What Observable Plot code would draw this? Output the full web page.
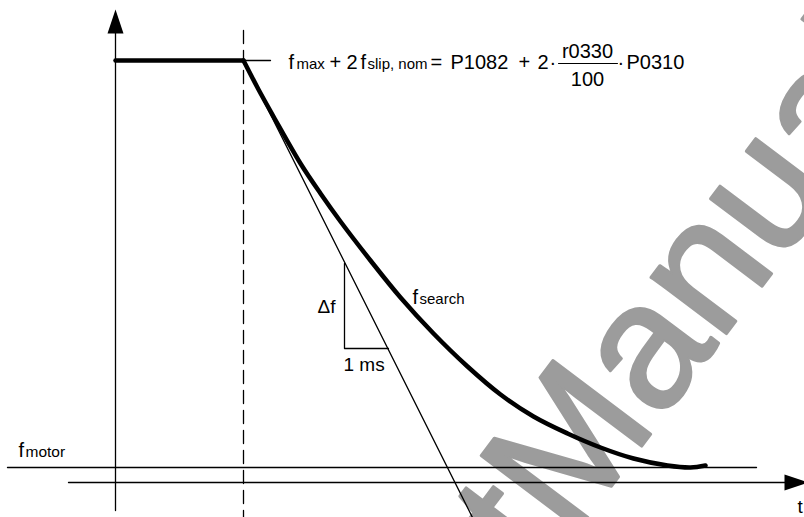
<!DOCTYPE html>
<html><head><meta charset="utf-8">
<script src="https://cdn.jsdelivr.net/npm/d3@7"></script>
<script src="https://cdn.jsdelivr.net/npm/@observablehq/plot@0.6"></script>
<style>html,body{margin:0;padding:0;background:#fff}svg{display:block}</style>
</head><body><div id="chart"></div>
<script>
// time (t) and frequency (f) values of the schematic
const flatPart = [{t:115, f:457}, {t:243, f:457}];
const searchCurve = [
  {t:243,f:457},{t:258,f:428},{t:273,f:401},{t:300,f:354},{t:320,f:324},
  {t:340,f:296},{t:370,f:257},{t:400,f:220},{t:433,f:184},{t:467,f:151},
  {t:500,f:123},{t:533,f:101},{t:567,f:84},{t:600,f:70},{t:633,f:59},
  {t:667,f:52},{t:690,f:50},{t:705,f:52}
];
const tangent = [{t:243,f:457},{t:472,f:0}];
const triangle = [{t:344,f:254},{t:344,f:169},{t:388,f:169}];
const maxMarker = [{t:243,f:457},{t:270,f:457}];
const motorLine = [{t:7,f:50},{t:756,f:50}];
const tAxis = [{t:68,f:35},{t:790,f:35}];
const fAxis = [{t:115,f:7},{t:115,f:484}];
const startLine = [{t:243,f:487},{t:243,f:0}];
const fractionBar = [{t:558,f:454},{t:617,f:454}];
const arrowHeads = [{t:115,f:496,rot:0},{t:796,f:35,rot:90}];

const labelsStart = [
  {t:288,f:449,text:"f",size:20},
  {t:296,f:449,text:"max",size:15},
  {t:329,f:449,text:"+",size:20},
  {t:346,f:449,text:"2",size:20},
  {t:360,f:449,text:"f",size:20},
  {t:367,f:449,text:"slip, nom",size:15},
  {t:430,f:449,text:"=",size:20},
  {t:450,f:449,text:"P1082",size:20},
  {t:518,f:449,text:"+",size:20},
  {t:537,f:449,text:"2",size:20},
  {t:549,f:449,text:"·",size:20},
  {t:617,f:449,text:"·",size:20},
  {t:626,f:449,text:"P0310",size:20},
  {t:317,f:205,text:"Δf",size:19},
  {t:343,f:147,text:"1 ms",size:19},
  {t:412,f:214,text:"f",size:20},
  {t:419,f:214,text:"search",size:15},
  {t:18,f:61,text:"f",size:20},
  {t:25,f:61,text:"motor",size:15.5},
  {t:797,f:5,text:"t",size:19}
];
const labelsMiddle = [
  {t:587,f:460,text:"r0330",size:20},
  {t:587,f:432,text:"100",size:20}
];
const watermark = [{t:540,f:-63,text:"tManual"}];

const arrowSymbol = {draw(ctx){ctx.moveTo(0,-12);ctx.lineTo(8,12);ctx.lineTo(-8,12);ctx.closePath();}};
const thin = 1.3;

const chart = Plot.plot({
  width: 804, height: 517, margin: 0,
  x: {domain:[0,804], range:[0,804], axis:null},
  y: {domain:[0,517], range:[517,0], axis:null},
  style: {fontFamily:"'Liberation Sans', Arial, sans-serif", background:"#fff", overflow:"hidden"},
  marks: [
    Plot.text(watermark, {x:"t", y:"f", text:"text", rotate:-53, fontSize:178, textAnchor:"start", lineAnchor:"bottom", fill:"#9c9c9c", stroke:"#9c9c9c", strokeWidth:3}),
    Plot.line(fAxis, {x:"t", y:"f", stroke:"black", strokeWidth:thin}),
    Plot.line(tAxis, {x:"t", y:"f", stroke:"black", strokeWidth:thin}),
    Plot.line(motorLine, {x:"t", y:"f", stroke:"black", strokeWidth:thin}),
    Plot.line(startLine, {x:"t", y:"f", stroke:"black", strokeWidth:thin, strokeDasharray:"13,7"}),
    Plot.line(maxMarker, {x:"t", y:"f", stroke:"black", strokeWidth:thin}),
    Plot.line(tangent, {x:"t", y:"f", stroke:"black", strokeWidth:thin}),
    Plot.line(triangle, {x:"t", y:"f", stroke:"black", strokeWidth:thin}),
    Plot.line(fractionBar, {x:"t", y:"f", stroke:"black", strokeWidth:1}),
    Plot.line(flatPart, {x:"t", y:"f", stroke:"black", strokeWidth:4.5, strokeLinecap:"round"}),
    Plot.line(searchCurve, {x:"t", y:"f", stroke:"black", strokeWidth:4.5, strokeLinecap:"round", curve:"catmull-rom"}),
    Plot.dot(arrowHeads, {x:"t", y:"f", rotate:"rot", symbol:arrowSymbol, fill:"black", stroke:"none"}),
    Plot.text(labelsStart, {x:"t", y:"f", text:"text", fontSize:"size", textAnchor:"start", lineAnchor:"bottom", fill:"black"}),
    Plot.text(labelsMiddle, {x:"t", y:"f", text:"text", fontSize:"size", textAnchor:"middle", lineAnchor:"bottom", fill:"black"})
  ]
});
document.getElementById("chart").appendChild(chart);
</script>
</body></html>
